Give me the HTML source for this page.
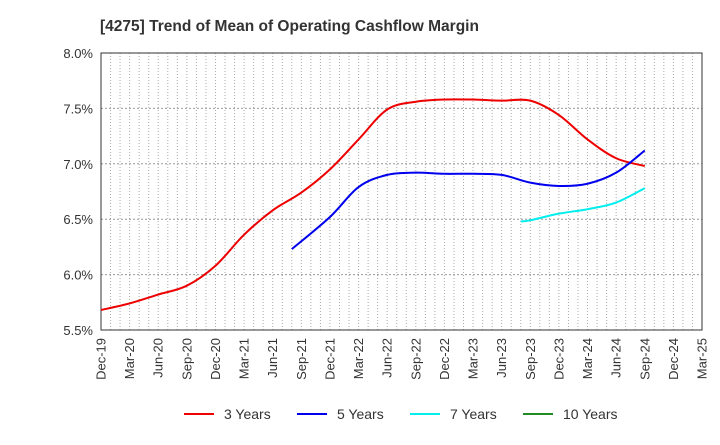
<!DOCTYPE html>
<html><head><meta charset="utf-8"><style>
body{margin:0;background:#fff;}
svg text{font-family:"Liberation Sans",Arial,sans-serif;fill:#333;}
</style></head><body>
<svg id="chart" width="720" height="440">
<text x="100" y="31" font-size="15.5" font-weight="bold">[4275]  Trend of Mean of Operating Cashflow Margin</text>
<g id="grid"></g><g id="axes"></g><g id="series"></g>
<g id="legend"></g>
</svg>
<script>
const xLabels=["Dec-19","Mar-20","Jun-20","Sep-20","Dec-20","Mar-21","Jun-21","Sep-21","Dec-21","Mar-22","Jun-22","Sep-22","Dec-22","Mar-23","Jun-23","Sep-23","Dec-23","Mar-24","Jun-24","Sep-24","Dec-24","Mar-25"];
const yTicks=[5.5,6.0,6.5,7.0,7.5,8.0];
const months3=[0,3,6,9,12,15,18,21,24,27,30,33,36,39,42,45,48,51,54,57];
const vals3=[5.68,5.74,5.82,5.90,6.08,6.36,6.58,6.74,6.95,7.22,7.49,7.56,7.58,7.58,7.57,7.57,7.44,7.22,7.05,6.98];
const months5=[20,24,27,30,33,36,39,42,45,48,51,54,57];
const vals5=[6.23,6.52,6.79,6.90,6.92,6.91,6.91,6.90,6.83,6.80,6.82,6.92,7.12];
const months7=[44,45,48,51,54,57];
const vals7=[6.48,6.49,6.55,6.59,6.65,6.78];
const L=101,R=702,T=53,B=330,NM=63;
const X=m=>L+m*(R-L)/NM;
const Y=v=>B-(v-5.5)*(B-T)/2.5;
const NS="http://www.w3.org/2000/svg";
function mk(t,a,p){const e=document.createElementNS(NS,t);for(const k in a)e.setAttribute(k,a[k]);p.appendChild(e);return e;}
const grid=document.getElementById('grid'),axes=document.getElementById('axes'),ser=document.getElementById('series'),leg=document.getElementById('legend');
for(let m=1;m<NM;m++){const l=mk('line',{x1:X(m),x2:X(m),y1:T,y2:B,stroke:'#aaa','stroke-width':1,'stroke-dasharray':'1,2'},grid);

}
yTicks.forEach(v=>{if(v>5.5&&v<8){const l=mk('line',{x1:L,x2:R,y1:Y(v),y2:Y(v),stroke:'#999','stroke-width':1,'stroke-dasharray':'2,2'},grid);

}
const t=mk('text',{x:L-8,y:Y(v)+5,'text-anchor':'end','font-size':13},axes);t.textContent=v.toFixed(1)+'%';

});
const fr=mk('rect',{x:L,y:T,width:R-L,height:B-T,fill:'none',stroke:'#333','stroke-width':1},axes);


xLabels.forEach((s,i)=>{const x=X(i*3)+4.5;const t=mk('text',{x:x,y:B+8,'text-anchor':'end','font-size':13,transform:`rotate(-90 ${x} ${B+8})`},axes);t.textContent=s;

});
function path(ms,vs){const p=ms.map((m,i)=>[X(m),Y(vs[i])]);let d=`M${p[0][0]},${p[0][1]}`;
for(let i=0;i<p.length-1;i++){const p0=p[i-1]||p[i],p1=p[i],p2=p[i+1],p3=p[i+2]||p2;
d+=` C${p1[0]+(p2[0]-p0[0])/6},${p1[1]+(p2[1]-p0[1])/6} ${p2[0]-(p3[0]-p1[0])/6},${p2[1]-(p3[1]-p1[1])/6} ${p2[0]},${p2[1]}`;}return d;}
[[months3,vals3,'#ee0000','series-3-years'],[months5,vals5,'#0000ee','series-5-years'],[months7,vals7,'#00eeee','series-7-years']].forEach(s=>{
const p=mk('path',{d:path(s[0],s[1]),fill:'none',stroke:s[2],'stroke-width':2},ser);

});
[[184,'#ee0000','3 Years'],[297,'#0000ee','5 Years'],[410,'#00eeee','7 Years'],[523,'#228b22','10 Years']].forEach(e=>{
const g=mk('g',{},leg);


mk('line',{x1:e[0],x2:e[0]+30,y1:414,y2:414,stroke:e[1],'stroke-width':2},g);
const t=mk('text',{x:e[0]+40,y:419,'font-size':14},g);t.textContent=e[2];});
</script>
</body></html>
